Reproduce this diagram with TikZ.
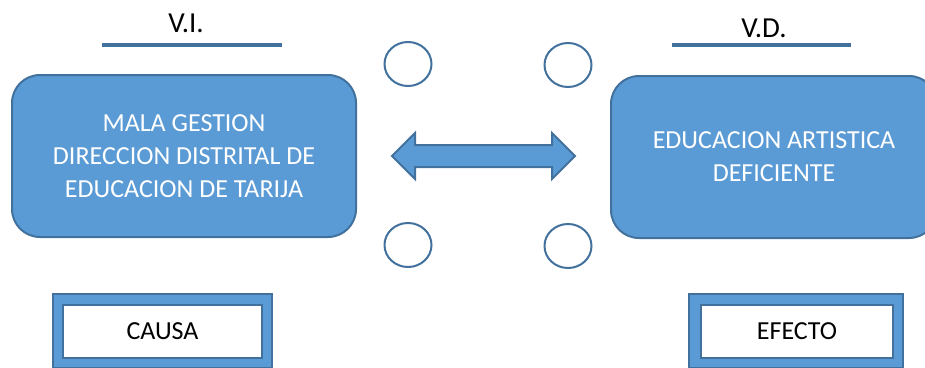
\documentclass[tikz,border=0pt]{standalone}
\usepackage{fontspec}
\setmainfont{Carlito}
\usepackage{tikz}
\usetikzlibrary{shapes.geometric}
\definecolor{azul}{HTML}{5B9BD5}
\definecolor{borde}{HTML}{41719C}

\begin{document}
\begin{tikzpicture}[x=1pt,y=-1pt,
  caja/.style={draw=borde,fill=azul,line width=2pt,rounded corners=28pt,text=white,align=center,font=\fontsize{26}{33}\selectfont},
  titulo/.style={anchor=base,font=\fontsize{29}{33}\selectfont},
  raya/.style={draw=borde,line width=4.5pt},
  ovalo/.style={draw=borde,line width=2pt,ellipse,minimum width=47pt,minimum height=44pt},
  marco/.style={draw=borde,fill=azul,line width=1.5pt},
  etiqueta/.style={draw=borde,fill=white,line width=1.5pt,font=\fontsize{26}{33}\selectfont}]
\useasboundingbox (0,0) rectangle (925,367);
% variables
\node[titulo] (vi) at (186,32) {V.I.};
\draw[raya] (102,45) -- (282,45);
\node[titulo] (vd) at (764,37) {V.D.};
\draw[raya] (672,45) -- (851,45);
\node[caja,minimum width=344pt,minimum height=162pt] (causal) at (184,156)
  {MALA GESTION\\DIRECCION DISTRITAL DE\\EDUCACION DE TARIJA};
\node[caja,minimum width=326pt,minimum height=162pt] (efectol) at (774,157)
  {EDUCACION ARTISTICA\\DEFICIENTE};
% relacion
\node[ovalo] (o1) at (408,64) {};
\node[ovalo] (o2) at (568,65) {};
\node[ovalo] (o3) at (408,245) {};
\node[ovalo] (o4) at (568,246) {};
\draw[borde,fill=azul,line width=2pt,line join=miter]
  (392,156) -- (415,133) -- (415,145) -- (552,145) -- (552,133) -- (575,156)
  -- (552,179) -- (552,167) -- (415,167) -- (415,179) -- cycle;
% causa y efecto
\node[marco,minimum width=219pt,minimum height=74pt] (fcausa) at (162.5,331) {};
\node[etiqueta,minimum width=199pt,minimum height=53pt] (causa) at (162.5,331.5) {CAUSA};
\node[marco,minimum width=214pt,minimum height=74pt] (fefecto) at (796,331) {};
\node[etiqueta,minimum width=192pt,minimum height=53pt] (efecto) at (797,331.5) {EFECTO};
\end{tikzpicture}
\end{document}
